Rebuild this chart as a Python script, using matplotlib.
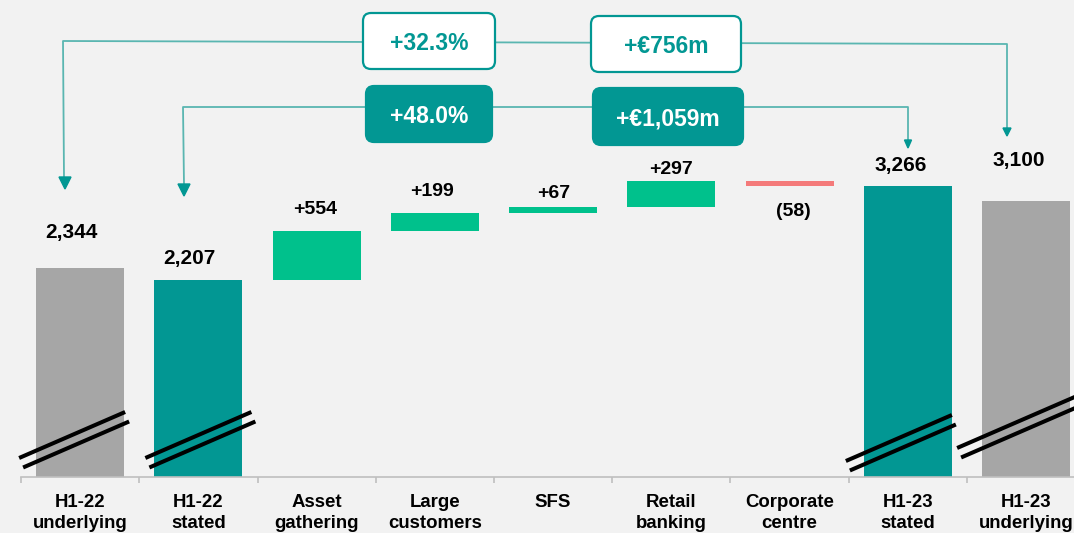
import matplotlib.pyplot as plt
import numpy as np
from matplotlib.patches import FancyBboxPatch, Polygon
from matplotlib.lines import Line2D

plt.rcParams['font.family'] = ['Liberation Sans', 'DejaVu Sans']
plt.rcParams['font.weight'] = 'bold'

categories = ['H1-22\nunderlying', 'H1-22\nstated', 'Asset\ngathering', 'Large\ncustomers',
              'SFS', 'Retail\nbanking', 'Corporate\ncentre', 'H1-23\nstated', 'H1-23\nunderlying']
start_underlying = 2344
start_stated = 2207
steps = [554, 199, 67, 297, -58]
end_stated = 3266
end_underlying = 3100

GREY = '#a6a6a6'
TEAL = '#029793'
GREEN = '#00c18c'
RED = '#f47a7a'
BG = '#f2f2f2'
LINE = '#5ab6b1'

W, H = 1074, 533
cat_px = 118.25   # pixels per category
val_px = 11.23    # value units per pixel
base_py = 477     # baseline row
left_px = 21

fig = plt.figure(figsize=(W / 100, H / 100), dpi=100, facecolor=BG)
ax = fig.add_axes([left_px / W, (H - base_py) / H, 1 - left_px / W, base_py / H])
ax.set_facecolor(BG)

# waterfall geometry
x = np.arange(len(categories))
cum = start_stated + np.concatenate([[0], np.cumsum(steps)[:-1]])
bottoms = [0, 0] + list(cum) + [0, 0]
heights = [start_underlying, start_stated] + steps + [end_stated, end_underlying]
colors = [GREY, TEAL] + [GREEN if s > 0 else RED for s in steps] + [TEAL, GREY]
ax.bar(x, heights, bottom=bottoms, width=0.745, color=colors, zorder=2)

# value labels (gap = distance of the digits' centre from the bar edge, px)
labels = [f'{start_underlying:,}', f'{start_stated:,}'] + \
         [f'+{s}' if s > 0 else f'({-s})' for s in steps] + \
         [f'{end_stated:,}', f'{end_underlying:,}']
sizes = [15, 15, 14, 14, 14, 14, 14, 15, 15]
gap_px = [38, 24, 24, 24, 16, 14, -23, 23, 42]
dx_px = [-9, -9, -2, -3, 1, 0, 4, -7, -7]
for i in range(len(x)):
    edge = bottoms[i] + heights[i]
    cap = sizes[i] / 0.72 * 0.716
    ax.annotate(labels[i], xy=(x[i], edge), xytext=(dx_px[i] * 0.72, (gap_px[i] - cap / 2) * 0.72),
                textcoords='offset points', ha='center', va='baseline',
                fontsize=sizes[i], fontweight='bold', color='black', zorder=5)

# axis styling
for s in ['top', 'right', 'left']:
    ax.spines[s].set_visible(False)
ax.spines['bottom'].set_color('#bfbfbf')
ax.spines['bottom'].set_linewidth(1.2)
ax.set_yticks([])
ax.set_xticks(x)
ax.set_xticklabels(categories, fontsize=13.4, fontweight='bold', linespacing=1.3)
ax.set_xticks(np.arange(-0.5, len(categories) + 0.5, 1), minor=True)
ax.tick_params(axis='x', which='major', length=0, pad=12)
ax.tick_params(axis='x', which='minor', length=4, width=1.2, color='#bfbfbf')
ax.set_xlim(-0.5, -0.5 + (W - left_px) / cat_px)
ax.set_ylim(0, base_py * val_px)


def P(px, py):
    # pixel (from top-left) to figure inches
    return px / 100, (H - py) / 100


# break marks on the full bars
break_bars = [0, 1, 7, 8]
break_dx = [-61, -53, -62, -69]
break_y = [458, 458, 461, 448]
break_len = [106, 106, 106, 140]
for b, dx, y0, ln in zip(break_bars, break_dx, break_y, break_len):
    c = left_px + (b + 0.5) * cat_px
    for ox, oy in [(0, 0), (4, 9.5)]:
        (xa, ya), (xb, yb) = P(c + dx + ox, y0 + oy), P(c + dx + ox + ln, y0 + oy - ln * 0.434)
        fig.add_artist(Line2D([xa, xb], [ya, yb], color='black', lw=2.9,
                              transform=fig.dpi_scale_trans, zorder=6, solid_capstyle='butt'))


def bracket(pts, heads):
    xs, ys = zip(*[P(*p) for p in pts])
    fig.add_artist(Line2D(xs, ys, color=LINE, lw=1.3, transform=fig.dpi_scale_trans, zorder=3))
    for tx, ty, w, h in heads:
        tri = [P(tx, ty), P(tx - w / 2, ty - h), P(tx + w / 2, ty - h)]
        fig.add_artist(Polygon(tri, closed=True, color=TEAL, transform=fig.dpi_scale_trans, zorder=3))


bracket([(64, 178), (63, 41), (1007, 44), (1007, 128)],
        [(65, 189, 12, 12), (1007, 136, 8, 8)])
bracket([(184, 185), (183, 107), (908, 107), (908, 141)],
        [(184, 196, 12, 12), (908, 148, 7, 8)])


def box(x0, y0, x1, y1, text, filled):
    (bx, by) = P(x0, y1)
    w, h = (x1 - x0) / 100, (y1 - y0) / 100
    fig.add_artist(FancyBboxPatch((bx, by), w, h, boxstyle='round,pad=0,rounding_size=0.08',
                                  facecolor=TEAL if filled else 'white', edgecolor=TEAL,
                                  lw=1.6, transform=fig.dpi_scale_trans, zorder=4))
    fs = 16.5
    cap = fs / 0.72 * 0.716
    cx, cy = P((x0 + x1) / 2, (y0 + y1) / 2 + 1 + cap / 2)
    fig.text(cx, cy, text, transform=fig.dpi_scale_trans, ha='center', va='baseline',
             fontsize=fs, fontweight='bold', color='white' if filled else TEAL, zorder=5)


diff_u = end_underlying - start_underlying
diff_s = end_stated - start_stated
box(363, 13, 495, 69, f'+{diff_u / start_underlying * 100:.1f}%', False)
box(591, 16, 741, 72, f'+€{diff_u:,}m', False)
box(366, 86, 492, 142, f'+{diff_s / start_stated * 100:.1f}%', True)
box(593, 88, 743, 145, f'+€{diff_s:,}m', True)

fig.savefig('out.png', dpi=100, facecolor=BG)
